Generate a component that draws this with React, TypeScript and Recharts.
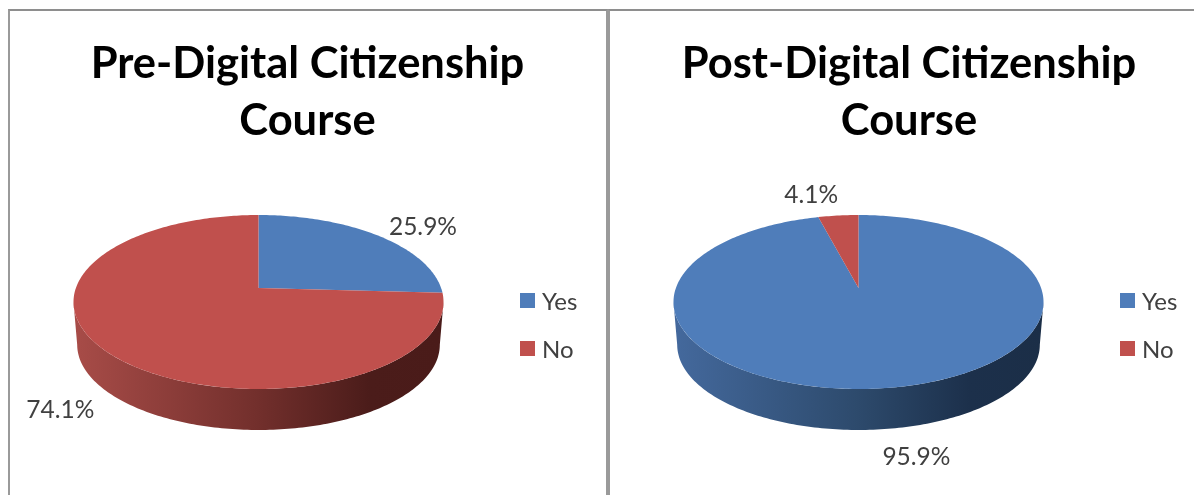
import React from "react";
import { PieChart, Pie, Legend } from "recharts";

const categories = ["Yes", "No"];
const preValues = [25.9, 74.1];
const postValues = [95.9, 4.1];
const sliceColors = ["#4f7dba", "#c0504d"];

// side wall shades, left to right
const wallShades: Record<string, string[]> = {
  Yes: ["#44699d", "#2d4a6c", "#1c304b", "#1b2e47"],
  No: ["#a84c48", "#722f2c", "#4b1c1a", "#4a1b19"],
};

const preLabelNudge = [
  [45, -10],
  [-49, 55],
];
const postLabelNudge = [
  [30, 68],
  [-27, -22],
];

const FONT = "Lato, 'Open Sans', sans-serif";
const TILT = 0.161; // back of the pie is squashed, front is stretched
const DEPTH = 43;

const buildData = (values: number[]) =>
  categories.map((name, i) => ({ name, value: values[i], fill: sliceColors[i] }));

// clockwise degrees from 12 o'clock -> point on the tilted disc
const project = (cx: number, cy: number, r: number, deg: number) => {
  const a = (deg * Math.PI) / 180;
  const d = 1 + TILT * Math.cos(a);
  return {
    x: cx + (r * 0.987 * Math.sin(a)) / d,
    y: cy - (r * 0.458 * Math.cos(a)) / d,
  };
};

const arcPoints = (cx: number, cy: number, r: number, from: number, to: number) => {
  const pts = [];
  const n = Math.max(2, Math.ceil(Math.abs(to - from)));
  for (let i = 0; i <= n; i++) pts.push(project(cx, cy, r, from + ((to - from) * i) / n));
  return pts;
};

const toPath = (pts: { x: number; y: number }[]) =>
  pts.map((p, i) => `${i ? "L" : "M"}${p.x.toFixed(2)},${p.y.toFixed(2)}`).join(" ");

const TiltedSlice = (props: any) => {
  const { cx, cy, outerRadius, startAngle, endAngle, fill, name } = props;
  const from = 90 - startAngle;
  const to = 90 - endAngle;
  const top = arcPoints(cx, cy, outerRadius, from, to);

  // only the front of the disc shows its wall
  const wallFrom = Math.max(from, 99.3);
  const wallTo = Math.min(to, 260.7);
  let wall = null;
  if (wallTo > wallFrom) {
    const upper = arcPoints(cx, cy, outerRadius, wallFrom, wallTo);
    const lower = arcPoints(cx, cy, outerRadius * 0.98, wallFrom, wallTo)
      .map((p) => ({ x: p.x, y: p.y + DEPTH }))
      .reverse();
    const id = `wall-${name}-${Math.round(cx)}`;
    const shades = wallShades[name];
    wall = (
      <g>
        <defs>
          <linearGradient
            id={id}
            gradientUnits="userSpaceOnUse"
            x1={cx - outerRadius}
            x2={cx + outerRadius}
            y1={0}
            y2={0}
          >
            <stop offset="0%" stopColor={shades[0]} />
            <stop offset="50%" stopColor={shades[1]} />
            <stop offset="80%" stopColor={shades[2]} />
            <stop offset="100%" stopColor={shades[3]} />
          </linearGradient>
        </defs>
        <path d={toPath([...upper, ...lower]) + " Z"} fill={`url(#${id})`} />
      </g>
    );
  }

  return (
    <g>
      {wall}
      <path d={`M${cx},${cy} ` + toPath(top).replace("M", "L") + " Z"} fill={fill} />
    </g>
  );
};

const makeLabel = (nudge: number[][]) => (props: any) => {
  const { cx, cy, outerRadius, midAngle, value, index } = props;
  const p = project(cx, cy, outerRadius, 90 - midAngle);
  return (
    <text
      x={p.x + nudge[index][0]}
      y={p.y + nudge[index][1]}
      textAnchor="middle"
      dominantBaseline="central"
      fill="#404040"
      style={{ fontFamily: FONT, fontSize: 24.5 }}
    >
      {`${value}%`}
    </text>
  );
};

const LegendList = ({ payload }: any) => (
  <div>
    {(payload || []).map((item: any) => (
      <div
        key={item.value}
        style={{ display: "flex", alignItems: "center", height: 48, fontFamily: FONT, fontSize: 24, color: "#404040" }}
      >
        <span style={{ width: 15, height: 15, background: item.color, marginRight: 7 }} />
        {item.value}
      </div>
    ))}
  </div>
);

type PanelProps = {
  title: string;
  values: number[];
  nudge: number[][];
  left: number;
  pieX: number;
  titleX: number;
  legendX: number;
};

const Panel = ({ title, values, nudge, left, pieX, titleX, legendX }: PanelProps) => (
  <div
    style={{
      position: "absolute",
      left,
      top: 9,
      width: 596,
      height: 520,
      borderTop: "2.5px solid #8e8e8e",
      borderLeft: "2.5px solid #9a9a9a",
      borderRight: "2.5px solid #9a9a9a",
    }}
  >
    <div
      style={{
        position: "absolute",
        left: titleX - 300,
        width: 600,
        top: 22,
        textAlign: "center",
        fontFamily: FONT,
        fontWeight: 700,
        fontSize: 43.5,
        lineHeight: "57px",
        color: "#000",
      }}
    >
      {title}
      <br />
      Course
    </div>
    <PieChart width={596} height={484} margin={{ top: 0, right: 0, bottom: 0, left: 0 }}>
      <Pie
        data={buildData(values)}
        dataKey="value"
        nameKey="name"
        cx={pieX}
        cy={277}
        outerRadius={185}
        startAngle={90}
        endAngle={-270}
        stroke="none"
        shape={TiltedSlice}
        label={makeLabel(nudge)}
        labelLine={false}
        isAnimationActive={false}
      />
      <Legend
        layout="vertical"
        itemSorter={null}
        content={<LegendList />}
        wrapperStyle={{ position: "absolute", left: legendX, top: 265, width: 80, bottom: "auto" }}
      />
    </PieChart>
  </div>
);

export default function App() {
  return (
    <div
      style={{
        position: "absolute",
        left: 0,
        top: 0,
        width: 1194,
        height: 495,
        overflow: "hidden",
        background: "#fff",
        filter: "blur(0.5px)",
      }}
    >
      <Panel
        title="Pre-Digital Citizenship"
        values={preValues}
        nudge={preLabelNudge}
        left={8}
        pieX={248.5}
        titleX={297.5}
        legendX={510}
      />
      <Panel
        title="Post-Digital Citizenship"
        values={postValues}
        nudge={postLabelNudge}
        left={608}
        pieX={248.5}
        titleX={299}
        legendX={510}
      />
    </div>
  );
}
